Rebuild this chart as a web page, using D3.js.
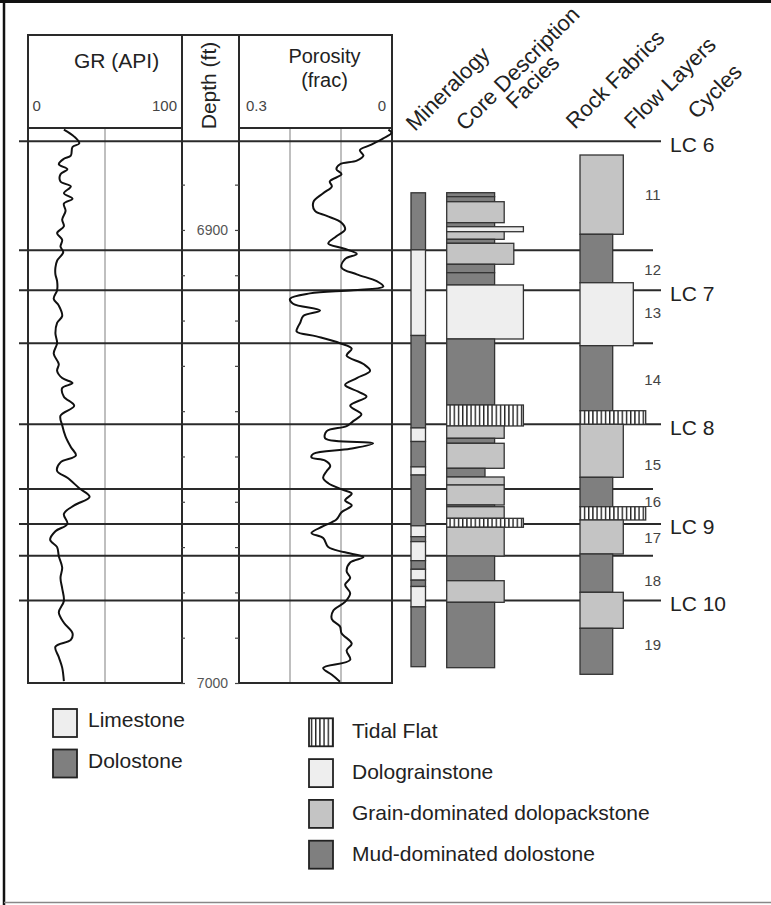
<!DOCTYPE html>
<html><head><meta charset="utf-8">
<script src="https://cdn.jsdelivr.net/npm/d3@7"></script>
<style>
body{margin:0;background:#fff}
svg{display:block}
text{font-family:"Liberation Sans",Arial,Helvetica,sans-serif}
</style>
</head><body>
<svg id="chart" width="771" height="905"></svg>
<script>
// ---------------- DATA ----------------
// Gamma ray log: [depth ft, GR API]
const grLog = [
[6877.85,23.3],[6879.4,30],[6880.9,33.3],[6881.7,28.9],[6883.6,27.8],[6884.3,23.3],[6885.5,20],
[6886.6,25.6],[6887.7,21.1],[6889.3,21.1],[6890.4,27.8],[6891.9,23.3],[6893.1,28.9],[6894.2,23.3],
[6895.8,24.4],[6897.7,22.2],[6899.2,23.3],[6900.7,18.9],[6902.2,22.2],[6903.7,21.1],[6904.9,22.9],
[6906.8,18.9],[6908.3,17.8],[6909.8,17.8],[6911.3,18.9],[6913.3,18.9],[6915.2,16.7],[6916.7,20],
[6919,22.2],[6920.5,18.9],[6922.8,17.8],[6925,18.9],[6927.3,16.7],[6929.6,20],[6931.1,18.9],
[6932.7,22.2],[6933.8,28.9],[6934.9,22.2],[6936.8,23.3],[6938.8,30],[6941,21.1],[6943.1,22.2],
[6945.6,24.4],[6947.9,27.8],[6949.8,31.1],[6951.3,21.1],[6953.2,18.9],[6954.7,25.6],[6957,33.3],
[6958.9,40],[6960.8,30],[6962.7,23.3],[6964.9,25.6],[6966.5,17.8],[6968.4,14.4],[6970,18.9],
[6972,20],[6974.5,22.2],[6976.8,21.1],[6979.1,22.2],[6981.9,23.3],[6984.4,20],[6986.7,23.3],
[6989,28.9],[6990.5,27.8],[6992,17.8],[6994.3,20],[6996.6,22.2],[6999.6,23.3]
];
// Porosity log: [depth ft, porosity frac]
const porosityLog = [
[6877.85,0.007],[6878.6,0.001],[6879.8,0.017],[6881.3,0.043],[6882.4,0.063],[6883.6,0.056],
[6884.7,0.069],[6885.5,0.102],[6886.6,0.109],[6887.7,0.099],[6889.3,0.122],[6890.4,0.118],
[6891.9,0.135],[6893.8,0.154],[6895.8,0.151],[6896.9,0.128],[6898.4,0.099],[6899.9,0.092],
[6901.4,0.109],[6903.0,0.125],[6904.1,0.095],[6905.3,0.069],[6906.4,0.092],[6908.3,0.099],
[6909.8,0.069],[6911.3,0.030],[6912.5,0.017],[6913.3,0.076],[6914.0,0.161],[6915.2,0.200],
[6916.3,0.194],[6917.8,0.141],[6919.0,0.174],[6920.5,0.180],[6921.3,0.184],[6922.4,0.187],
[6923.5,0.148],[6925.0,0.102],[6926.2,0.079],[6927.7,0.089],[6929.6,0.056],[6931.1,0.043],
[6932.7,0.069],[6934.2,0.092],[6935.7,0.066],[6936.8,0.050],[6938.8,0.082],[6940.7,0.060],
[6942.2,0.076],[6943.3,0.089],[6944.4,0.128],[6946.0,0.131],[6947.1,0.037],[6948.3,0.082],
[6949.4,0.154],[6950.2,0.158],[6950.9,0.131],[6952.1,0.121],[6953.2,0.128],[6954.7,0.135],
[6955.9,0.125],[6957.4,0.095],[6958.2,0.079],[6959.7,0.092],[6960.8,0.079],[6962.3,0.099],
[6963.9,0.109],[6965.4,0.135],[6966.9,0.158],[6968.0,0.135],[6970.0,0.125],[6971.1,0.095],
[6972.2,0.056],[6973.4,0.082],[6975.3,0.089],[6976.8,0.082],[6978.3,0.092],[6980.2,0.082],
[6982.1,0.092],[6984.0,0.115],[6985.9,0.118],[6987.5,0.102],[6989.0,0.099],[6991.3,0.079],
[6992.8,0.089],[6994.9,0.082],[6996.7,0.135],[6998.2,0.118],[6999.7,0.102]
];
const depthDomain = [6877.5, 7000];
const depthTicks = [6890,6900,6910,6920,6930,6940,6950,6960,6970,6980,6990,7000];
const depthLabels = [6900, 7000];
const grTicks = [0, 100];
const grGrid = [50];
const porTicks = [0.3, 0];
const porGrid = [0.2, 0.1];
// Flow-layer / cycle boundaries; labelled ones are LC cycle tops
const boundaryDepths = [6880.4, 6904.5, 6913.3, 6925.0, 6942.9, 6957.2, 6964.9, 6971.9, 6981.8];
const boundaryLabels = ["LC 6", "", "LC 7", "", "LC 8", "", "LC 9", "", "LC 10"];
const cycleNames = ["11","12","13","14","15","16","17","18","19"];
const cycleDepths = [6892.3, 6908.8, 6918.3, 6933.1, 6951.7, 6960.0, 6967.8, 6977.4, 6991.5];
// Mineralogy: [top, base, type]
const mineralogy = [
[6891.8,6904.4,"Dolostone"],[6904.4,6923.3,"Limestone"],[6923.3,6943.7,"Dolostone"],
[6943.7,6946.7,"Limestone"],[6946.7,6952.3,"Dolostone"],[6952.3,6954.1,"Limestone"],
[6954.1,6965.3,"Dolostone"],[6965.3,6967.7,"Limestone"],[6967.7,6968.8,"Dolostone"],
[6968.8,6973.0,"Limestone"],[6973.0,6974.9,"Dolostone"],[6974.9,6977.3,"Limestone"],
[6977.3,6978.7,"Dolostone"],[6978.7,6983.2,"Limestone"],[6983.2,6996.4,"Dolostone"]
];
// Core description facies: [top, base, facies, grain-size index]
const coreFacies = [
[6891.78,6892.66,"Mud",2],[6892.66,6893.77,"Mud",2],[6893.77,6898.40,"Grain",3],
[6898.40,6899.29,"Mud",2],[6899.29,6900.39,"Grainstone",5],[6900.39,6902.07,"Grain",3],
[6902.07,6902.95,"Mud",2],[6902.95,6907.58,"Grain",4],[6907.58,6909.44,"Mud",2],
[6909.44,6912.15,"Mud",2],[6912.15,6924.07,"Grainstone",5],[6924.07,6938.64,"Mud",2],
[6938.64,6943.27,"Tidal",5],[6943.27,6945.99,"Grain",3],[6945.99,6947.09,"Mud",2],
[6947.09,6952.61,"Grain",3],[6952.61,6954.53,"Mud",1],[6954.53,6956.30,"Grain",3],
[6956.30,6960.71,"Grain",3],[6960.71,6961.09,"Mud",2],[6961.09,6963.65,"Grain",3],
[6963.65,6965.63,"Tidal",5],[6965.63,6971.97,"Grain",3],[6971.97,6977.42,"Mud",2],
[6977.42,6982.19,"Grain",3],[6982.19,6996.62,"Mud",2]
];
// Rock fabrics: [top, base, fabric]
const rockFabrics = [
[6883.46,6900.96,"Grain"],[6900.96,6911.65,"Mud"],[6911.65,6925.55,"Grainstone"],
[6925.55,6939.90,"Mud"],[6939.90,6942.90,"Tidal"],[6942.90,6954.60,"Grain"],
[6954.60,6961.09,"Mud"],[6961.09,6964.02,"Tidal"],[6964.02,6971.53,"Grain"],
[6971.53,6979.98,"Mud"],[6979.98,6987.93,"Grain"],[6987.93,6998.08,"Mud"]
];
const columnTitles = ["Mineralogy","Core Description","Facies","Rock Fabrics","Flow Layers","Cycles"];
const mineralLegend = ["Limestone","Dolostone"];
const faciesLegend = ["Tidal Flat","Dolograinstone","Grain-dominated dolopackstone","Mud-dominated dolostone"];
const faciesLegendKeys = ["Tidal","Grainstone","Grain","Mud"];

// ---------------- DRAWING ----------------
const svg = d3.select("#chart");
const DARK = "#7f7f7f", MID = "#c4c4c4", LIGHT = "#eeeeee", INK = "#2a2a2a";

const defs = svg.append("defs");
const pat = defs.append("pattern").attr("id","tidal").attr("patternUnits","userSpaceOnUse")
  .attr("width",4.2).attr("height",10);
pat.append("rect").attr("width",4.2).attr("height",10).attr("fill","#fff");
pat.append("rect").attr("x",0).attr("width",1.4).attr("height",10).attr("fill","#222");

const fillOf = t => ({Dolostone:DARK, Limestone:LIGHT, Mud:DARK, Grain:MID, Grainstone:LIGHT, Tidal:"url(#tidal)"})[t];

const y = d3.scaleLinear().domain(depthDomain).range([128, 683]);
const xGR = d3.scaleLinear().domain([0, 100]).range([28, 182]);
const xPor = d3.scaleLinear().domain([0.3, 0]).range([239, 392]);
const coreW = d3.scaleLinear().domain([1, 5]).range([38.3, 76.7]);
const rockW = d3.scaleOrdinal().domain(["Mud","Grain","Grainstone","Tidal"]).range([32.7, 43.3, 53.3, 65.7]);

// frame
svg.append("rect").attr("width",771).attr("height",905).attr("fill","#fff");
svg.append("line").attr("x1",0).attr("x2",771).attr("y1",1.5).attr("y2",1.5).attr("stroke","#111").attr("stroke-width",3);
svg.append("line").attr("x1",4).attr("x2",4).attr("y1",0).attr("y2",905).attr("stroke","#111").attr("stroke-width",2.5);
svg.append("line").attr("x1",4).attr("x2",771).attr("y1",902.5).attr("y2",902.5).attr("stroke","#888").attr("stroke-width",1.5);

// grid lines in tracks
const g = svg.append("g");
grGrid.forEach(v => g.append("line").attr("x1",xGR(v)).attr("x2",xGR(v)).attr("y1",128).attr("y2",683)
  .attr("stroke","#aaa").attr("stroke-width",1.5));
porGrid.forEach(v => g.append("line").attr("x1",xPor(v)).attr("x2",xPor(v)).attr("y1",128).attr("y2",683)
  .attr("stroke","#aaa").attr("stroke-width",1.5));

// horizontal boundary lines
boundaryDepths.forEach((d,i) => {
  const lab = boundaryLabels[i];
  g.append("line").attr("x1",19).attr("x2", lab ? 661 : 653)
    .attr("y1",y(d)).attr("y2",y(d)).attr("stroke",INK).attr("stroke-width",2);
  if (lab) g.append("text").attr("x",670).attr("y",y(d)+10.5).attr("font-size",21).attr("fill","#222").text(lab);
});

// track outlines
function box(x0,y0,x1,y1){
  g.append("rect").attr("x",x0).attr("y",y0).attr("width",x1-x0).attr("height",y1-y0)
    .attr("stroke",INK).attr("stroke-width",2).attr("fill","none");
}
box(xGR(0),35,xGR(100),683);
box(xPor(0.3),35,xPor(0),683);
g.append("line").attr("x1",xGR(0)).attr("x2",xGR(100)).attr("y1",128).attr("y2",128).attr("stroke",INK).attr("stroke-width",2);
g.append("line").attr("x1",xPor(0.3)).attr("x2",xPor(0)).attr("y1",128).attr("y2",128).attr("stroke",INK).attr("stroke-width",2);
g.append("line").attr("x1",xGR(100)).attr("x2",xPor(0.3)).attr("y1",35).attr("y2",35).attr("stroke",INK).attr("stroke-width",2);

// header texts
g.append("text").attr("x",74).attr("y",68).attr("font-size",21).attr("fill","#222").text("GR (API)");
g.append("text").attr("x",324.5).attr("y",63).attr("font-size",20).attr("fill","#222").attr("text-anchor","middle").text("Porosity");
g.append("text").attr("x",324.5).attr("y",87).attr("font-size",20).attr("fill","#222").attr("text-anchor","middle").text("(frac)");
g.append("text").attr("transform","translate(216,85.5) rotate(-90)").attr("font-size",21).attr("fill","#222")
  .attr("text-anchor","middle").text("Depth (ft)");
grTicks.forEach((v,i)=> g.append("text").attr("x", i===0 ? xGR(v)+4.5 : xGR(v)-5).attr("y",111)
  .attr("text-anchor", i===0 ? "start":"end").attr("font-size",15).attr("fill","#444").text(v));
porTicks.forEach((v,i)=> g.append("text").attr("x", i===0 ? xPor(v)+7 : xPor(v)-6).attr("y",111)
  .attr("text-anchor", i===0 ? "start":"end").attr("font-size",15).attr("fill","#444").text(v));

// depth axis ticks (both sides of depth track)
const axL = d3.axisRight(y).tickValues(depthTicks).tickSize(4).tickFormat("");
const axR = d3.axisLeft(y).tickValues(depthTicks).tickSize(4).tickFormat("");
const gl = g.append("g").attr("transform",`translate(${xGR(100)-1},0)`).call(axL);
const gr = g.append("g").attr("transform",`translate(${xPor(0.3)},0)`).call(axR);
[gl,gr].forEach(a=>{ a.select(".domain").remove(); a.selectAll("line").attr("stroke","#444").attr("stroke-width",1.2); });
depthLabels.forEach(v => g.append("text").attr("x",228).attr("y",y(v)+5).attr("text-anchor","end")
  .attr("font-size",14).attr("fill","#555").text(v));

// log curves
const lineGR = d3.line().x(d=>xGR(d[1])).y(d=>y(d[0])).curve(d3.curveCatmullRom.alpha(0.5));
const linePor = d3.line().x(d=>xPor(d[1])).y(d=>y(d[0])).curve(d3.curveCatmullRom.alpha(0.5));
g.append("path").attr("d",lineGR(grLog)).attr("fill","none").attr("stroke","#111").attr("stroke-width",2);
g.append("path").attr("d",linePor(porosityLog)).attr("fill","none").attr("stroke","#111").attr("stroke-width",2);

// mineralogy column
g.selectAll(".min").data(mineralogy).join("rect")
  .attr("x",411).attr("width",14.5)
  .attr("y",d=>y(d[0])).attr("height",d=>y(d[1])-y(d[0]))
  .attr("fill",d=>fillOf(d[2])).attr("stroke","#333").attr("stroke-width",1.3);

// core description facies column
g.selectAll(".core").data(coreFacies).join("rect")
  .attr("x",446.7).attr("width",d=>coreW(d[3]))
  .attr("y",d=>y(d[0])).attr("height",d=>y(d[1])-y(d[0]))
  .attr("fill",d=>fillOf(d[2])).attr("stroke","#333").attr("stroke-width",1.3);

// rock fabrics column
g.selectAll(".rock").data(rockFabrics).join("rect")
  .attr("x",580).attr("width",d=>rockW(d[2]))
  .attr("y",d=>y(d[0])).attr("height",d=>y(d[1])-y(d[0]))
  .attr("fill",d=>fillOf(d[2])).attr("stroke","#333").attr("stroke-width",1.3);

// cycle numbers
cycleNames.forEach((n,i)=> g.append("text").attr("x",652.7).attr("y",y(cycleDepths[i])+5.4)
  .attr("text-anchor","middle").attr("font-size",15).attr("fill","#444").text(n));

// rotated column titles
const titlePos = [[415,132],[465,131.7],[515,110],[575,130],[633.3,130],[696.7,120]];
columnTitles.forEach((t,i)=> g.append("text")
  .attr("transform",`translate(${titlePos[i][0]},${titlePos[i][1]}) rotate(-45)`)
  .attr("font-size",22).attr("fill","#222").text(t));

// legends
mineralLegend.forEach((t,i)=>{
  const yy = 709 + i*40.5;
  g.append("rect").attr("x",53).attr("y",yy).attr("width",24).attr("height",28)
    .attr("fill",fillOf(t)).attr("stroke","#222").attr("stroke-width",1.8);
  g.append("text").attr("x",88).attr("y",yy+18).attr("font-size",21).attr("fill","#222").text(t);
});
faciesLegend.forEach((t,i)=>{
  const yy = 718.3 + i*40.8;
  g.append("rect").attr("x",309).attr("y",yy).attr("width",24).attr("height",28)
    .attr("fill",fillOf(faciesLegendKeys[i])).attr("stroke","#222").attr("stroke-width",1.8);
  g.append("text").attr("x",352).attr("y",yy+20).attr("font-size",21).attr("fill","#222").text(t);
});
</script>
</body></html>
